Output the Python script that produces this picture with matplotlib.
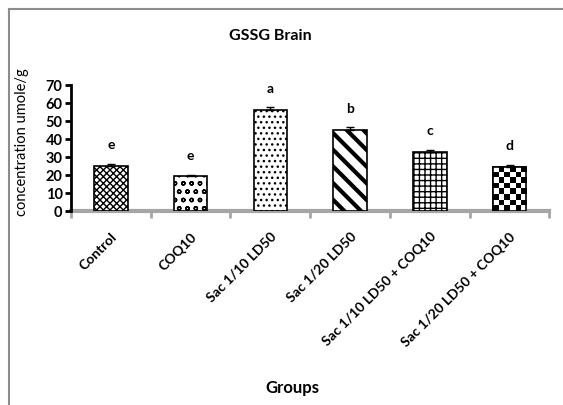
import numpy as np
import matplotlib
matplotlib.use('Agg')
import matplotlib.pyplot as plt
from matplotlib.lines import Line2D

plt.rcParams['font.family'] = ['Lato', 'DejaVu Sans']
plt.rcParams['hatch.linewidth'] = 1.0

groups = ['Control', 'COQ10', 'Sac 1/10 LD50', 'Sac 1/20 LD50',
          'Sac 1/10 LD50 + COQ10', 'Sac 1/20 LD50 + COQ10']
values = [25.2, 19.3, 56.2, 45.0, 33.0, 24.5]
errors = [0.9, 0.8, 1.5, 1.5, 0.7, 0.8]
letters = ['e', 'e', 'a', 'b', 'c', 'd']
hatches = ['xxxxx', 'oo', '...', '\\\\', '+++', None]
hatch_lw = [1.0, 1.0, 1.0, 3.0, 1.0, 1.0]

fig = plt.figure(figsize=(5.63, 4.05), dpi=100)
ax = fig.add_axes([0.126, 0.479, 0.850, 0.311])

x = np.arange(len(groups))
bars = ax.bar(x, values, width=0.42, color='white', edgecolor='black',
              linewidth=1.2, zorder=2)
for b, h, hl in zip(bars, hatches, hatch_lw):
    if h:
        b.set_hatch(h)
        if hasattr(b, 'set_hatch_linewidth'):
            b.set_hatch_linewidth(hl)

# checkerboard fill for the last bar
last = bars[-1]
n_rows, n_cols = 8, 6
checker = (np.add.outer(np.arange(n_rows), np.arange(n_cols)) % 2)
im = ax.imshow(checker, cmap='gray_r', aspect='auto', interpolation='nearest',
               extent=(last.get_x(), last.get_x() + last.get_width(),
                       0, last.get_height()), zorder=2.5)
im.set_clip_path(last)
ax.bar(x[-1], values[-1], width=0.42, fill=False, edgecolor='black',
       linewidth=1.2, zorder=3)

ax.errorbar(x, values, yerr=[np.zeros(len(errors)), errors], fmt='none',
            ecolor='black', elinewidth=1, capsize=3, capthick=1, zorder=4)

for xi, v, l in zip(x, values, letters):
    ax.text(xi, v + 11.5, l, ha='center', va='center', fontsize=10,
            fontweight='bold')

ax.set_xlim(-0.5, len(groups) - 0.5)
ax.set_ylim(0, 70)
ax.set_yticks(range(0, 71, 10))
ax.set_xticks(np.arange(-0.5, len(groups), 1.0))
ax.set_xticklabels([])
ax.set_xticks(x, minor=True)
ax.set_xticklabels(groups, minor=True, rotation=45, ha='right',
                   rotation_mode='anchor', fontsize=10, fontweight='bold')
ax.tick_params(axis='x', which='minor', length=0, pad=14)
ax.tick_params(axis='x', which='major', length=5, width=2, color='#a6a6a6')
ax.tick_params(axis='y', length=4, width=2, color='black', labelsize=10.5,
               pad=2)
for t in ax.get_yticklabels():
    t.set_fontweight('bold')

for s in ['top', 'right']:
    ax.spines[s].set_visible(False)
ax.spines['left'].set_linewidth(2)
ax.spines['bottom'].set_linewidth(3)
ax.spines['bottom'].set_color('#a6a6a6')
ax.spines['bottom'].set_zorder(1)

fig.text(270 / 563, 1 - 36 / 405, 'GSSG Brain', ha='center', va='center',
         fontsize=11.5, fontweight='bold')
fig.text(22 / 563, 1 - 142 / 405, 'concentration umole/g', rotation=90,
         ha='center', va='center', fontsize=10.5)
fig.text(292 / 563, 1 - 388 / 405, 'Groups', ha='center', va='center',
         fontsize=12, fontweight='bold')

# chart frame
fig.add_artist(Line2D([8.5 / 563, 1], [1 - 8.5 / 405] * 2, color='#8c8c8c',
                      lw=1.5, transform=fig.transFigure))
fig.add_artist(Line2D([8.5 / 563] * 2, [0, 1 - 8.5 / 405], color='#8c8c8c',
                      lw=1.5, transform=fig.transFigure))

fig.savefig('out.png', dpi=100)
